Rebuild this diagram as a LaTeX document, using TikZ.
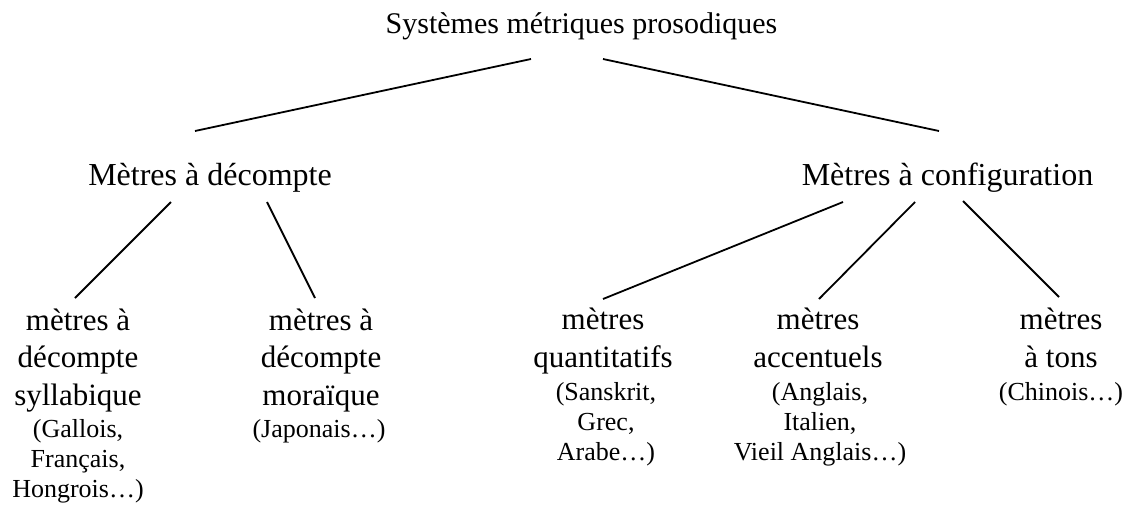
\documentclass[tikz,border=0pt]{standalone}
\usepackage{fontspec}
\setmainfont{Liberation Serif}
\usepackage{tikz}
\usetikzlibrary{positioning}

\begin{document}
\begin{tikzpicture}[
    x=1pt, y=-1pt,
    top/.style={font=\fontsize{30}{36}\selectfont, inner sep=0pt, anchor=base},
    family/.style={font=\fontsize{32}{38}\selectfont, inner sep=0pt, anchor=base},
    kind/.style={font=\fontsize{31}{37.5}\selectfont, inner sep=0pt, anchor=base, align=center},
    examples/.style={font=\fontsize{26}{30}\selectfont, inner sep=0pt, anchor=base, align=center},
    branch/.style={line width=1.8pt},
]
\useasboundingbox (0,0) rectangle (1130,507);

% --- Root ---
\node[top] (sys) at (581.5,33) {Systèmes métriques prosodiques};

% --- Two families of metres ---
\node[family] (dec) at (210,185) {Mètres à décompte};
\node[family] (conf) at (947.5,185) {Mètres à configuration};

% root -> families
\draw[branch] ([shift={(-50.5,26)}]sys.base) -- ([shift={(-15,-54)}]dec.base);
\draw[branch] ([shift={(21.5,26)}]sys.base) -- ([shift={(-8.5,-54)}]conf.base);

% --- Kinds of metres (base = last line) ---
\node[kind] (syl) at (78,405) {mètres à\\décompte\\syllabique};
\node[kind] (mor) at (321,405) {mètres à\\décompte\\moraïque};
\node[kind] (qua) at (603,367) {mètres\\quantitatifs};
\node[kind] (acc) at (818,367) {mètres\\accentuels};
\node[kind] (ton) at (1061,367) {mètres\\à tons};

% families -> kinds
\draw[branch] ([shift={(-39,17)}]dec.base) -- ([shift={(-3,-107)}]syl.base);
\draw[branch] ([shift={(57,17)}]dec.base) -- ([shift={(-6,-107)}]mor.base);
\draw[branch] ([shift={(-104.5,17)}]conf.base) -- ([shift={(0,-68)}]qua.base);
\draw[branch] ([shift={(-32.5,17)}]conf.base) -- ([shift={(1,-68)}]acc.base);
\draw[branch] ([shift={(15.5,16)}]conf.base) -- ([shift={(-2,-70)}]ton.base);

% --- Languages (below each kind) ---
\node[examples] (sylex) at (78,497) {(Gallois,\\Français,\\Hongrois…)};
\node[examples] (morex) at (319,437) {(Japonais…)};
\node[examples] (quaex) at (606,460) {(Sanskrit,\\Grec,\\Arabe…)};
\node[examples] (accex) at (820,460) {(Anglais,\\Italien,\\Vieil Anglais…)};
\node[examples] (tonex) at (1061,400) {(Chinois…)};

\end{tikzpicture}
\end{document}
